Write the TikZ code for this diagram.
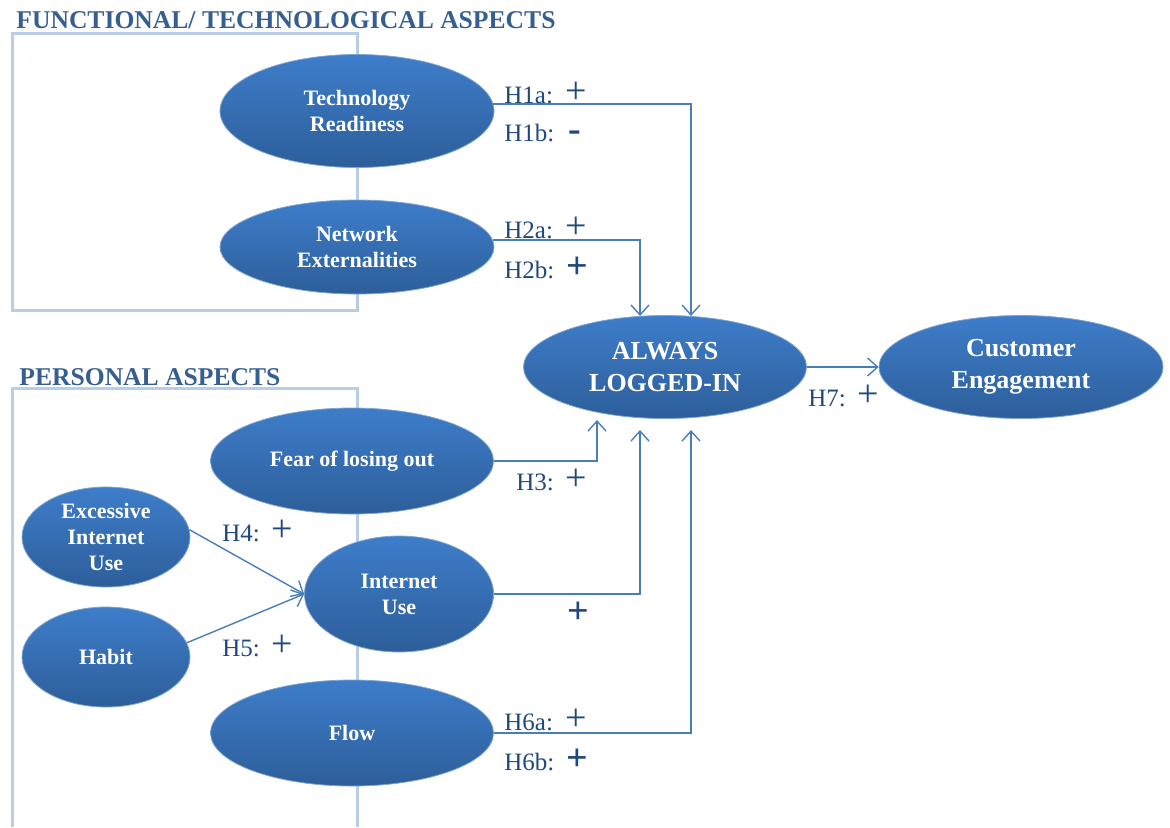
\documentclass[tikz,border=0pt]{standalone}
\usepackage{fontspec}
\setmainfont{Liberation Serif}
\usepackage{xcolor}
\usetikzlibrary{
	shapes.geometric,
	arrows.meta
}
\definecolor{boxline}{HTML}{B9CDE5}
\definecolor{linkblue}{HTML}{4A7EBB}
\definecolor{toptone}{HTML}{3E7DCA}
\definecolor{bottomtone}{HTML}{2D5E9A}
\definecolor{labeltext}{HTML}{1F497D}
\definecolor{headtext}{HTML}{365F91}
\newcommand{\sgn}[1]{{\fontsize{19}{19}\selectfont #1}}

\begin{document}
\begin{tikzpicture}[
            x=0.5pt, y=-0.5pt,
            construct/.style={
                ellipse,
                draw=linkblue!70!white,
                line width=0.4pt,
                top color=toptone,
                bottom color=bottomtone,
                text=white,
                align=center,
                inner sep=0pt,
                font=\bfseries\fontsize{11}{13}\selectfont
            },
            hyp/.style={anchor=west,inner sep=0pt,text=labeltext,
                font=\fontsize{12.5}{14}\selectfont},
            heading/.style={anchor=west,inner sep=0pt,text=headtext,
                font=\bfseries\fontsize{12.8}{15}\selectfont},
            frame/.style={draw=boxline,line width=1.5pt},
            arr/.style={-{Straight Barb[length=5pt,width=9pt]},draw=linkblue,line width=0.7pt}
        ]
            \useasboundingbox (0,0) rectangle (1170,827);

            \node[heading] (functional) at (16,20) {FUNCTIONAL/ TECHNOLOGICAL ASPECTS};
            \node[heading] (personal) at (19,377) {PERSONAL ASPECTS};
            \draw[frame] (12,33) rectangle (357,310);
            \draw[frame] (12,827) -- (12,388) -- (357,388) -- (357,827);

            \node[construct,minimum width=137pt,minimum height=56.5pt] (tr) at (357,111)
            {Technology\\Readiness};
            \node[construct,minimum width=137pt,minimum height=47pt] (ne) at (357,247)
            {Network\\Externalities};
            \node[construct,minimum width=141.5pt,minimum height=51.5pt,
                font=\bfseries\fontsize{13}{16}\selectfont] (logged) at (665,367)
            {ALWAYS\\LOGGED-IN};
            \node[construct,minimum width=142pt,minimum height=51.5pt,
                font=\bfseries\fontsize{13}{16}\selectfont] (engage) at (1021,367)
            {Customer\\Engagement};
            \node[construct,minimum width=141.5pt,minimum height=53pt] (fear) at (352,461)
            {Fear of losing out};
            \node[construct,minimum width=84pt,minimum height=50pt] (excessive) at (106,537)
            {Excessive\\Internet\\Use};
            \node[construct,minimum width=94.5pt,minimum height=58pt] (internet) at (399,594)
            {Internet\\Use};
            \node[construct,minimum width=84pt,minimum height=50pt] (habit) at (106,657)
            {Habit};
            \node[construct,minimum width=141.5pt,minimum height=53pt] (flow) at (352,733)
            {Flow};

            \coordinate (topleft) at (640,316);
            \coordinate (topright) at (691,316);
            \coordinate (lowfar) at (597,420);
            \coordinate (lowleft) at (640,430);
            \coordinate (lowright) at (691,430);

            \draw[arr] (tr.3) -| (topright);
            \draw[arr] (ne.3) -| (topleft);
            \draw[arr] (fear.east) -| (lowfar);
            \draw[arr] (internet.east) -| (lowleft);
            \draw[arr] (flow.east) -| (lowright);
            \draw[arr] (logged.east) -- (engage.west);
            \draw[arr] (excessive.5) -- (internet.west);
            \draw[arr] (habit.10) -- (internet.west);

            \node[hyp] (h1a) at (504,93) {H1a:\hspace{6pt}\sgn{+}};
            \node[hyp] (h1b) at (504,133) {H1b:\hspace{7pt}\sgn{\bfseries -}};
            \node[hyp] (h2a) at (504,228) {H2a:\hspace{6pt}\sgn{+}};
            \node[hyp] (h2b) at (504,268) {H2b:\hspace{6pt}\sgn{\bfseries +}};
            \node[hyp] (h3) at (516,480) {H3:\hspace{6pt}\sgn{+}};
            \node[hyp] (h4) at (222,531) {H4:\hspace{6pt}\sgn{+}};
            \node[hyp] (h5) at (222,646) {H5:\hspace{6pt}\sgn{+}};
            \node[hyp,anchor=center] (h6) at (578,613) {\sgn{\bfseries +}};
            \node[hyp] (h6a) at (504,720) {H6a:\hspace{6pt}\sgn{+}};
            \node[hyp] (h6b) at (504,760) {H6b:\hspace{6pt}\sgn{\bfseries +}};
            \node[hyp] (h7) at (808,396) {H7:\hspace{6pt}\sgn{+}};
        \end{tikzpicture}
\end{document}
